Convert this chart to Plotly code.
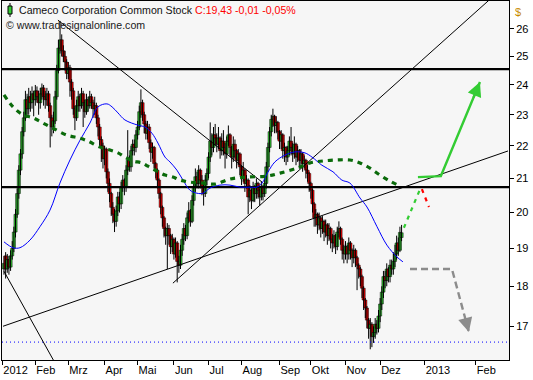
import math
import plotly.graph_objects as go

# ---------------- data ----------------
# daily candles, index 0 = first trading day of January 2012
open_ = [18.45, 18.8, 18.45, 18.7, 18.5, 18.8, 19.0, 19.45, 19.95, 20.55,
         21.25, 21.75, 22.45, 22.9, 23.5, 23.2, 23.6, 23.4, 23.7, 23.5,
         23.8, 23.6, 23.4, 23.7, 23.9, 23.6, 23.5, 23.7, 23.3, 22.9,
         22.6, 22.8, 23.6, 24.5, 25.3, 25.6, 25.2, 25.0, 24.8, 24.4,
         24.6, 24.1, 23.8, 23.2, 22.9, 23.3, 23.6, 23.3, 23.7, 23.4,
         23.1, 23.5, 23.3, 23.6, 23.4, 23.2, 23.3, 22.9, 22.6, 22.2,
         22.0, 21.6, 21.9, 21.2, 20.85, 20.55, 20.15, 19.95, 19.75, 20.05,
         20.45, 20.25, 20.75, 20.95, 20.75, 21.25, 21.55, 21.35, 21.85, 22.05,
         21.95, 22.35, 22.6, 23.1, 23.4, 23.0, 22.7, 22.4, 22.6, 22.1,
         21.8, 21.95, 21.45, 21.25, 20.95, 20.55, 20.15, 19.85, 19.55, 19.35,
         19.55, 19.35, 19.05, 19.25, 18.85, 19.15, 18.65, 18.55, 18.95, 19.25,
         19.55, 19.35, 19.85, 20.05, 19.75, 20.35, 20.75, 21.05, 20.85, 21.25,
         20.95, 20.75, 20.55, 20.95, 21.15, 21.65, 22.15, 21.95, 22.35, 22.25,
         22.05, 22.25, 21.85, 22.15, 21.95, 21.75, 22.15, 22.35, 21.95, 21.65,
         22.05, 21.85, 21.55, 21.75, 21.35, 21.05, 21.25, 20.85, 20.95, 20.45,
         20.65, 20.35, 20.75, 20.55, 20.85, 20.65, 20.45, 20.75, 20.55, 20.85,
         21.35, 21.95, 22.45, 22.85, 22.95, 22.65, 22.75, 22.45, 22.15, 22.35,
         21.85, 21.95, 21.65, 21.85, 22.15, 21.95, 21.75, 22.05, 21.65, 21.85,
         21.55, 21.75, 21.45, 21.55, 21.25, 21.15, 20.85, 20.65, 20.25, 19.85,
         19.95, 19.65, 19.85, 19.55, 19.75, 19.45, 19.65, 19.35, 19.55, 19.25,
         19.15, 19.35, 19.05, 19.45, 19.55, 19.25, 18.95, 18.85, 19.05, 18.85,
         19.15, 18.95, 18.75, 18.95, 18.75, 18.55, 18.45, 18.25, 17.95, 17.65,
         17.45, 17.15, 16.95, 17.05, 16.75, 16.85, 17.05, 16.95, 17.25, 17.55,
         17.85, 18.25, 18.15, 18.45, 18.25, 18.55, 18.45, 18.65, 18.85, 19.15,
         18.95, 19.30]

high = [18.8, 18.9, 18.85, 18.8, 18.95, 19.2, 19.6, 20.1, 20.7, 21.4,
        21.9, 22.6, 23.1, 23.8, 23.7, 23.9, 23.8, 23.95, 23.8, 24.0,
        23.95, 23.8, 23.9, 24.05, 24.0, 23.8, 23.9, 23.8, 23.4, 23.0,
        23.1, 23.8, 24.7, 25.6, 26.3, 25.8, 25.4, 25.2, 24.9, 24.8,
        24.7, 24.2, 23.9, 23.3, 23.5, 23.8, 23.7, 23.9, 23.8, 23.5,
        23.7, 23.6, 23.8, 23.7, 23.5, 23.6, 23.4, 23.0, 22.7, 22.3,
        22.1, 22.0, 21.95, 21.3, 21.0, 20.6, 20.3, 20.1, 20.2, 20.6,
        20.6, 20.9, 21.1, 21.0, 21.4, 22.5, 21.7, 22.0, 22.2, 22.2,
        22.5, 22.8, 23.3, 23.85, 23.5, 23.1, 22.8, 22.8, 22.7, 22.2,
        22.1, 22.0, 21.5, 21.3, 21.0, 20.6, 20.2, 19.9, 19.6, 19.7,
        19.65, 19.4, 19.4, 19.3, 19.3, 19.2, 18.8, 19.1, 19.4, 19.7,
        19.65, 20.0, 20.3, 20.1, 20.5, 20.9, 21.3, 21.2, 21.4, 21.3,
        21.1, 20.85, 21.1, 21.3, 21.8, 22.75, 22.4, 22.6, 22.7, 22.4,
        22.6, 22.3, 22.4, 22.5, 22.1, 22.3, 22.65, 22.4, 22.0, 22.3,
        22.2, 21.9, 21.9, 21.8, 21.4, 21.5, 21.3, 21.1, 21.0, 20.8,
        20.7, 20.9, 20.8, 21.0, 20.9, 20.7, 20.9, 20.8, 21.0, 21.5,
        22.1, 22.6, 23.0, 23.2, 23.0, 22.95, 22.8, 22.5, 22.5, 22.4,
        22.1, 22.0, 22.0, 22.3, 22.6, 22.1, 22.3, 22.1, 22.0, 21.9,
        21.9, 21.8, 21.7, 21.6, 21.4, 21.2, 20.9, 20.7, 20.3, 20.1,
        20.0, 20.0, 19.9, 19.9, 19.8, 19.8, 19.7, 19.7, 19.6, 19.4,
        19.5, 19.4, 19.6, 19.75, 19.6, 19.3, 19.1, 19.2, 19.1, 19.3,
        19.2, 19.0, 19.1, 19.0, 18.8, 18.6, 18.5, 18.3, 18.0, 17.7,
        17.5, 17.2, 17.2, 17.1, 17.0, 17.2, 17.15, 17.4, 17.7, 18.0,
        18.4, 18.4, 18.6, 18.5, 18.7, 18.7, 18.9, 19.1, 19.35, 19.3,
        19.6, 19.65]

low = [18.3, 18.2, 18.35, 18.3, 18.4, 18.7, 18.9, 19.3, 19.85, 20.4,
       21.1, 21.6, 22.3, 22.8, 23.0, 23.0, 23.1, 23.2, 22.95, 23.3,
       23.4, 23.0, 23.2, 23.5, 23.3, 23.2, 23.3, 23.1, 21.95, 22.3,
       22.4, 22.7, 23.5, 24.4, 25.1, 25.0, 24.8, 24.5, 24.2, 24.2,
       23.6, 23.5, 23.0, 22.5, 22.8, 23.1, 23.1, 23.2, 22.6, 22.9,
       23.0, 23.1, 23.2, 23.2, 22.9, 23.0, 22.7, 22.3, 22.0, 21.5,
       21.3, 21.4, 21.0, 20.6, 20.3, 19.9, 19.7, 19.45, 19.6, 19.9,
       20.0, 20.1, 20.6, 20.5, 20.6, 21.1, 21.2, 21.2, 21.7, 21.7,
       21.8, 22.2, 22.5, 22.9, 22.8, 22.4, 22.2, 22.2, 21.9, 21.5,
       21.6, 21.3, 21.0, 20.7, 20.4, 19.95, 19.6, 19.3, 19.1, 18.45,
       19.1, 18.85, 18.9, 18.7, 18.75, 18.1, 18.35, 18.45, 18.8, 19.1,
       19.2, 19.25, 19.7, 19.6, 19.7, 20.2, 20.6, 20.7, 20.7, 20.7,
       20.5, 20.2, 20.45, 20.8, 21.0, 21.5, 21.7, 21.8, 22.0, 21.8,
       21.9, 21.6, 21.7, 21.7, 21.3, 21.6, 22.0, 21.7, 21.3, 21.5,
       21.6, 21.3, 21.4, 21.1, 20.8, 20.9, 20.6, 20.7, 19.95, 20.3,
       20.1, 20.3, 20.3, 20.4, 20.4, 20.2, 20.35, 20.35, 20.45, 20.7,
       21.2, 21.8, 22.3, 22.6, 22.4, 22.4, 22.2, 21.9, 21.9, 21.6,
       21.5, 21.4, 21.5, 21.7, 21.7, 21.5, 21.6, 21.4, 21.5, 21.3,
       21.4, 21.2, 21.3, 21.0, 20.9, 20.6, 20.4, 20.0, 19.6, 19.6,
       19.4, 19.5, 19.3, 19.4, 19.2, 19.3, 19.1, 19.2, 19.0, 18.9,
       19.0, 18.85, 18.95, 19.3, 19.1, 18.7, 18.6, 18.7, 18.6, 18.7,
       18.7, 18.5, 18.6, 18.5, 17.9, 18.2, 18.0, 17.7, 17.4, 17.2,
       16.95, 16.7, 16.45, 16.5, 16.6, 16.7, 16.8, 16.85, 17.1, 17.4,
       17.7, 17.95, 18.0, 18.1, 18.1, 18.3, 18.3, 18.5, 18.7, 18.8,
       18.9, 19.2]

close = [18.6, 18.45, 18.7, 18.5, 18.8, 19.0, 19.45, 19.95, 20.55, 21.25,
         21.75, 22.45, 22.9, 23.5, 23.2, 23.6, 23.4, 23.7, 23.5, 23.8,
         23.6, 23.4, 23.7, 23.9, 23.6, 23.5, 23.7, 23.3, 22.9, 22.6,
         22.8, 23.6, 24.5, 25.3, 25.6, 25.2, 25.0, 24.8, 24.4, 24.6,
         24.1, 23.8, 23.2, 22.9, 23.3, 23.6, 23.3, 23.7, 23.4, 23.1,
         23.5, 23.3, 23.6, 23.4, 23.2, 23.3, 22.9, 22.6, 22.2, 22.0,
         21.6, 21.9, 21.2, 20.85, 20.55, 20.15, 19.95, 19.75, 20.05, 20.45,
         20.25, 20.75, 20.95, 20.75, 21.25, 21.55, 21.35, 21.85, 22.05, 21.95,
         22.35, 22.6, 23.1, 23.4, 23.0, 22.7, 22.4, 22.6, 22.1, 21.8,
         21.95, 21.45, 21.25, 20.95, 20.55, 20.15, 19.85, 19.55, 19.35, 19.55,
         19.35, 19.05, 19.25, 18.85, 19.15, 18.65, 18.55, 18.95, 19.25, 19.55,
         19.35, 19.85, 20.05, 19.75, 20.35, 20.75, 21.05, 20.85, 21.25, 20.95,
         20.75, 20.55, 20.95, 21.15, 21.65, 22.15, 21.95, 22.35, 22.25, 22.05,
         22.25, 21.85, 22.15, 21.95, 21.75, 22.15, 22.35, 21.95, 21.65, 22.05,
         21.85, 21.55, 21.75, 21.35, 21.05, 21.25, 20.85, 20.95, 20.45, 20.65,
         20.35, 20.75, 20.55, 20.85, 20.65, 20.45, 20.75, 20.55, 20.85, 21.35,
         21.95, 22.45, 22.85, 22.95, 22.65, 22.75, 22.45, 22.15, 22.35, 21.85,
         21.95, 21.65, 21.85, 22.15, 21.95, 21.75, 22.05, 21.65, 21.85, 21.55,
         21.75, 21.45, 21.55, 21.25, 21.15, 20.85, 20.65, 20.25, 19.85, 19.95,
         19.65, 19.85, 19.55, 19.75, 19.45, 19.65, 19.35, 19.55, 19.25, 19.15,
         19.35, 19.05, 19.45, 19.55, 19.25, 18.95, 18.85, 19.05, 18.85, 19.15,
         18.95, 18.75, 18.95, 18.75, 18.55, 18.45, 18.25, 17.95, 17.65, 17.45,
         17.15, 16.95, 17.05, 16.75, 16.85, 17.05, 16.95, 17.25, 17.55, 17.85,
         18.25, 18.15, 18.45, 18.25, 18.55, 18.45, 18.65, 18.85, 19.15, 18.95,
         19.44, 19.43]

# x-axis: month starts (trading-day index) and labels
month_start_idx = [0, 20, 40, 62, 82, 104, 125, 145, 168, 187, 208, 229, 256, 287]
month_labels = ["2012", "Feb", "Mrz", "Apr", "Mai", "Jun", "Jul", "Aug", "Sep",
                "Okt", "Nov", "Dez", "2013", "Feb"]
price_ticks = [17, 18, 19, 20, 21, 22, 23, 24, 25, 26]

# blue moving average (index, value)
blue_ma_idx = [0, 5.5, 9.7, 15.8, 21.8, 27.9, 33.9, 40.0, 46.1, 52.1, 57.0, 62.4,
               65.5, 69.1, 73.3, 81.2, 85.5, 89.7, 93.3, 97.6, 100.6, 104.8,
               108.5, 112.7, 117.0, 120.6, 124.8, 130.9, 137.0, 143.0, 149.1,
               153.3, 156.4, 160.0, 164.2, 170.3, 176.4, 182.4, 186.7, 192.7,
               199.4, 204.8, 209.7, 215.8, 220.0, 226.1, 232.1, 238.2, 241.8]
blue_ma_val = [19.18, 19.02, 19.02, 19.23, 19.60, 20.07, 20.86, 21.56, 22.18,
               22.73, 23.26, 23.36, 23.26, 23.06, 22.83, 22.66, 22.60, 22.40,
               22.09, 21.65, 21.50, 21.25, 20.95, 20.65, 20.56, 20.56, 20.71,
               20.80, 20.80, 20.74, 20.74, 20.74, 20.86, 21.19, 21.50, 21.71,
               21.81, 21.78, 21.65, 21.40, 21.20, 20.95, 20.86, 20.42, 20.16,
               19.60, 19.09, 18.77, 18.64]

# dark green moving average (index, value)
green_ma_idx = [0, 5.5, 11.5, 17.6, 23.6, 29.7, 38.2, 46.1, 50.9, 58.2, 64.2,
                69.1, 73.3, 78.2, 83.6, 87.3, 92.7, 97.6, 102.4, 106.7, 112.7,
                120.6, 127.9, 137.0, 147.3, 159.4, 167.3, 177.6, 185.5, 193.3,
                201.8, 209.7, 215.8, 221.8, 227.9, 233.9, 238.8]
green_ma_val = [23.66, 23.26, 23.00, 22.90, 22.73, 22.56, 22.34, 22.24, 22.15,
                21.96, 21.87, 21.78, 21.65, 21.53, 21.47, 21.37, 21.22, 21.10,
                21.04, 20.95, 20.89, 20.86, 20.83, 20.98, 21.04, 21.07, 21.16,
                21.31, 21.47, 21.53, 21.56, 21.56, 21.47, 21.31, 21.10, 20.92,
                20.80]

# horizontal levels
resistance_levels = [24.55, 20.74]
low_level = 16.62

# trend lines: (start index, start price, end index, end price)
trend_lines = [
    (32.7, 26.33, 156.4, 20.89),
    (0.0, 18.39, 33.0, 15.99),
    (102.4, 18.08, 298.8, 27.37),
    (-0.6, 17.00, 305.5, 21.84),
]

# projections
proj_up_dash_idx = [242.4, 252.7]
proj_up_dash_val = [19.57, 20.74]
proj_red_idx = [253.3, 257.6]
proj_red_val = [20.68, 20.16]
proj_green_idx = [250.9, 264.8, 288.5]
proj_green_val = [21.04, 21.07, 24.10]
proj_gray_idx = [246.1, 271.5, 281.8]
proj_gray_val = [18.45, 18.45, 16.86]

X_RANGE = [-1.2, 306.1]
Y_RANGE = [16.20, 27.06]

# ---------------- figure ----------------
FONT = "Liberation Sans"
fig = go.Figure()

n = len(close)
idx = list(range(n))

# wicks
wx, wy = [], []
for i in idx:
    wx += [i, i, None]
    wy += [low[i], high[i], None]
fig.add_trace(go.Scatter(x=wx, y=wy, mode="lines", line=dict(color="black", width=1),
                         hoverinfo="skip"))

# bodies
body_base = [min(o, c) for o, c in zip(open_, close)]
body_len = [max(abs(c - o), 0.02) for o, c in zip(open_, close)]
body_col = ["#33cc33" if c >= o else "#ff0000" for o, c in zip(open_, close)]
fig.add_trace(go.Bar(x=idx, y=body_len, base=body_base, width=1.9,
                     marker=dict(color=body_col, line=dict(color="black", width=0.5)),
                     hoverinfo="skip"))

for lvl in resistance_levels:
    fig.add_trace(go.Scatter(x=X_RANGE, y=[lvl, lvl], mode="lines",
                             line=dict(color="black", width=2.4), hoverinfo="skip"))
fig.add_trace(go.Scatter(x=X_RANGE, y=[low_level, low_level], mode="lines",
                         line=dict(color="#0000ff", width=1, dash="1px,3px"), hoverinfo="skip"))

for (i0, p0, i1, p1) in trend_lines:
    fig.add_trace(go.Scatter(x=[i0, i1], y=[p0, p1], mode="lines",
                             line=dict(color="black", width=1), hoverinfo="skip"))

fig.add_trace(go.Scatter(x=blue_ma_idx, y=blue_ma_val, mode="lines",
                         line=dict(color="#0000ff", width=1, shape="spline"), hoverinfo="skip"))
fig.add_trace(go.Scatter(x=green_ma_idx, y=green_ma_val, mode="lines",
                         line=dict(color="#0a6a0a", width=3.2, dash="5px,5px", shape="spline"),
                         hoverinfo="skip"))

fig.add_trace(go.Scatter(x=proj_up_dash_idx, y=proj_up_dash_val, mode="lines",
                         line=dict(color="#33cc33", width=2.2, dash="4px,5px"), hoverinfo="skip"))
fig.add_trace(go.Scatter(x=proj_red_idx, y=proj_red_val, mode="lines",
                         line=dict(color="#ff0000", width=2.2, dash="4px,5px"), hoverinfo="skip"))
fig.add_trace(go.Scatter(x=proj_green_idx, y=proj_green_val, mode="lines",
                         line=dict(color="#33cc33", width=2.4), hoverinfo="skip"))
fig.add_trace(go.Scatter(x=proj_gray_idx, y=proj_gray_val, mode="lines",
                         line=dict(color="#8c8c8c", width=2.4, dash="7px,4px"), hoverinfo="skip"))


def arrow_head(xs, ys, color):
    # arrow head at the end of the last segment; tail a bit back along it
    xa, xb = xs[-2], xs[-1]
    la, lb = math.log10(ys[-2]), math.log10(ys[-1])
    f = 0.82
    return dict(x=xb, y=lb, ax=xa + f * (xb - xa), ay=la + f * (lb - la),
                xref="x", yref="y", axref="x", ayref="y", showarrow=True,
                arrowhead=2, arrowsize=1.3, arrowwidth=2.2, arrowcolor=color, text="")


c_last, c_prev = close[-1], close[-2]
chg = c_last - c_prev
pct = chg / c_prev * 100


def de(v):
    return f"{v:.2f}".replace(".", ",")


title_txt = ("Cameco Corporation Common Stock "
             f"<span style='color:#ff0000'>C:{de(c_last)} {de(chg)} {de(pct)}%</span>")

W, H = 533, 380
ML, MR, MT, MB = 2, 24, 1, 20
pw, ph = W - ML - MR, H - MT - MB


def px(x):
    return (x - ML) / pw


def py(y):
    return 1 - (y - MT) / ph


annotations = [
    arrow_head(proj_green_idx, proj_green_val, "#33cc33"),
    arrow_head(proj_gray_idx, proj_gray_val, "#8c8c8c"),
    dict(x=px(17), y=py(10), xref="paper", yref="paper", xanchor="left", yanchor="middle",
         text=title_txt, showarrow=False, font=dict(family=FONT, size=10.6, color="#101010")),
    dict(x=px(4), y=py(25), xref="paper", yref="paper", xanchor="left", yanchor="middle",
         text="© www.tradesignalonline.com", showarrow=False,
         font=dict(family=FONT, size=10.6, color="#202020")),
    dict(x=px(513), y=py(12), xref="paper", yref="paper", xanchor="left", yanchor="middle",
         text="$", showarrow=False, font=dict(family=FONT, size=11, color="#c88a00")),
]

shapes = [
    dict(type="line", xref="paper", yref="paper", x0=px(10), x1=px(10), y0=py(3), y1=py(17),
         line=dict(color="black", width=1)),
    dict(type="rect", xref="paper", yref="paper", x0=px(8), x1=px(12), y0=py(6), y1=py(14),
         fillcolor="#33cc33", line=dict(color="black", width=1)),
]

fig.update_layout(
    width=W, height=H,
    margin=dict(l=ML, r=MR, t=MT, b=MB, pad=0),
    paper_bgcolor="white", plot_bgcolor="#f6f6f6",
    showlegend=False, hovermode=False, barmode="overlay",
    annotations=annotations, shapes=shapes,
    font=dict(family=FONT, size=11, color="black"),
    xaxis=dict(range=X_RANGE, showgrid=False, zeroline=False, showline=True, mirror=True,
               linecolor="black", linewidth=1,
               tickmode="array", tickvals=[m - 1 for m in month_start_idx], ticktext=month_labels,
               ticks="outside", ticklen=4, tickcolor="black", ticklabelposition="outside right",
               tickfont=dict(family=FONT, size=11, color="black")),
    yaxis=dict(type="log", range=[math.log10(Y_RANGE[0]), math.log10(Y_RANGE[1])],
               side="right", showgrid=False, zeroline=False, showline=True, mirror=True,
               linecolor="black", linewidth=1,
               tickmode="array", tickvals=price_ticks, ticktext=[str(t) for t in price_ticks],
               ticks="outside", ticklen=4, tickcolor="black",
               tickfont=dict(family=FONT, size=11, color="black")),
)

fig.write_html("out.html", config={"displayModeBar": False},
               post_script="document.body.style.margin='0';")
